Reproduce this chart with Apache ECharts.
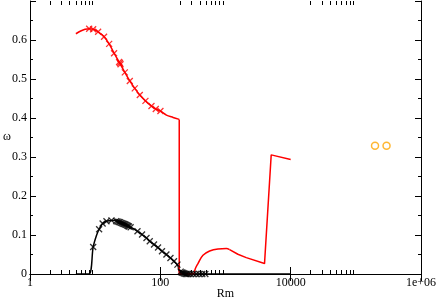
<!DOCTYPE html>
<html>
<head>
<meta charset="utf-8">
<script src="https://cdn.jsdelivr.net/npm/echarts@6/dist/echarts.min.js"></script>
<style>html,body{margin:0;padding:0;background:#fff}#c{width:436px;height:299px}</style>
</head>
<body>
<div id="c"></div>
<script>
// ---- data ----
const xTickValues = [1, 100, 10000, 1000000];
const xTickLabels = ['1', '100', '10000', '1e+06'];
const xMinorTicks = [2,3,4,5,6,7,8,9, 200,300,400,500,600,700,800,900, 20000,30000,40000,50000,60000,70000,80000,90000];
const yTickLabels = ['0','0.1','0.2','0.3','0.4','0.5','0.6'];

// red curve (upper branch)
const redCurveX = [5.06, 6, 7, 8.09, 9.31, 11.1, 13.7, 16.4, 19.5, 23.3, 28.5, 34, 40.5, 48.4, 59.1, 73.1, 85.1, 100.3, 124, 156.6, 195];
const redCurveY = [0.616, 0.623, 0.6275, 0.629, 0.6275, 0.621, 0.6085, 0.590, 0.566, 0.5435, 0.517, 0.495, 0.476, 0.459, 0.444, 0.4306, 0.423, 0.418, 0.4074, 0.4015, 0.3964];
// red drop to zero
const redDropX = [195, 195, 328];
const redDropY = [0.3964, 0, 0];
// red arc
const redArcX = [328, 345, 378, 451, 571, 766, 1029, 1156];
const redArcY = [0, 0.0139, 0.0267, 0.048, 0.059, 0.0642, 0.0652, 0.0626];
// red tail (decline, jump, end)
const redTailX = [1156, 1549, 2083, 3970, 5027, 10000];
const redTailY = [0.0626, 0.0506, 0.042, 0.0267, 0.3055, 0.2937];
// red markers
const redMarkX = [8.09, 9.31, 11.1, 13.7, 16.4, 19.5, 23.3, 24.0, 24.5, 28.5, 34, 40.5, 48.4, 59.1, 73.1, 85.1, 100.3];
const redMarkY = [0.629, 0.6275, 0.621, 0.6085, 0.590, 0.566, 0.5435, 0.541, 0.538, 0.517, 0.495, 0.476, 0.459, 0.444, 0.4306, 0.423, 0.418];

// black curve
const blackX = [5.06, 8.0, 9.32, 10.5, 11.5, 13.0, 14.9, 17.8, 20.0, 24, 28.5, 35.2, 44.6, 52.4, 61.3, 68.8, 80, 92.2, 106, 124, 143, 162, 185, 210, 10000];
const blackY = [0, 0, 0.0693, 0.0994, 0.1148, 0.1294, 0.1353, 0.1375, 0.137, 0.1315, 0.127, 0.12, 0.1096, 0.1012, 0.0924, 0.084, 0.0755, 0.0678, 0.0583, 0.0498, 0.0411, 0.0326, 0.022, 0, 0];
// black markers
const blackMarkX = [9.32, 11.5, 13.0, 14.9, 17.8, 21, 22, 23, 24, 25, 26, 27, 28, 29, 30, 31, 32, 33, 35, 44.6, 52.4, 61.3, 68.8, 80, 92.2, 106, 124, 143, 162, 183, 205, 212, 220, 228, 236, 245, 255, 270, 290, 320, 355, 395, 440, 490];
const blackMarkY = [0.0693, 0.1148, 0.1294, 0.1353, 0.1375, 0.1355, 0.1345, 0.1335, 0.1325, 0.131, 0.130, 0.129, 0.128, 0.127, 0.126, 0.1245, 0.123, 0.122, 0.12, 0.1096, 0.1012, 0.0924, 0.084, 0.0755, 0.0678, 0.0583, 0.0498, 0.0411, 0.0326, 0.024, 0.006, 0.004, 0.003, 0.002, 0.001, 0, 0, 0, 0, 0, 0, 0, 0, 0];

// orange circles
const orangeX = [197000, 296000];
const orangeY = [0.3286, 0.3286];

// ---- chart ----
const zip = (xs, ys) => xs.map((x, i) => [x, ys[i]]);
const FONT = "Liberation Serif";
const crossPath = 'path://M0,0L10,10M10,0L0,10';

const chart = echarts.init(document.getElementById('c'), null, {renderer: 'canvas'});

const xLabelFmt = v => {
  for (let i = 0; i < xTickValues.length; i++) {
    if (Math.abs(Math.log10(v) - Math.log10(xTickValues[i])) < 1e-6) return xTickLabels[i];
  }
  return '';
};
const yLabelFmt = v => {
  const i = Math.round(v * 10);
  return yTickLabels[i] !== undefined ? yTickLabels[i] : '';
};

const baseX = {
  type: 'log', logBase: 100, min: 1, max: 1000000,
  axisLine: {show: true, lineStyle: {color: '#000', width: 1}},
  axisTick: {show: true, inside: true, length: 7, lineStyle: {color: '#000', width: 1}},
  splitLine: {show: false},
  minorTick: {show: false}
};
const baseY = {
  type: 'value', min: 0, max: 0.7, interval: 0.1,
  axisLine: {show: true, lineStyle: {color: '#000', width: 1}},
  axisTick: {show: true, inside: true, length: 6, lineStyle: {color: '#000', width: 1}},
  minorTick: {show: true, splitNumber: 2, length: 3, lineStyle: {color: '#000', width: 1}},
  splitLine: {show: false}
};
const redLine = {type: 'line', showSymbol: false, lineStyle: {color: '#ff0000', width: 1.5}, z: 3};

chart.setOption({
  animation: false,
  backgroundColor: '#fff',
  grid: {left: 30, right: 15, top: 1, bottom: 25, containLabel: false, outerBoundsMode: 'none'},
  graphic: [
    {type: 'text', left: 3, top: 131, style: {text: 'ω', fontFamily: FONT, fontSize: 12, fill: '#000'}}
  ],
  xAxis: [
    Object.assign({}, baseX, {
      position: 'bottom',
      axisLabel: {show: true, formatter: xLabelFmt, fontFamily: FONT, fontSize: 12, color: '#000', margin: 3},
      name: 'Rm', nameLocation: 'middle', nameGap: 14, nameMoveOverlap: false,
      nameTextStyle: {fontFamily: FONT, fontSize: 12, color: '#000'}
    }),
    Object.assign({}, baseX, {position: 'top', axisLabel: {show: false}})
  ],
  yAxis: [
    Object.assign({}, baseY, {
      position: 'left',
      axisLabel: {show: true, formatter: yLabelFmt, fontFamily: FONT, fontSize: 12, color: '#000', margin: 3, showMaxLabel: false}
    }),
    Object.assign({}, baseY, {position: 'right', axisLabel: {show: false}})
  ],
  series: [
    {
      type: 'custom', xAxisIndex: 0, yAxisIndex: 0, silent: true, z: 1,
      data: xMinorTicks.map(v => [v, 0]),
      encode: {x: 0, y: 1},
      renderItem: (params, api) => {
        const b = api.coord([api.value(0), 0]);
        const t = api.coord([api.value(0), 0.7]);
        const x = Math.round(b[0]) + 0.5;
        return {type: 'group', children: [
          {type: 'line', shape: {x1: x, y1: b[1], x2: x, y2: b[1] - 4}, style: {stroke: '#000', lineWidth: 1}},
          {type: 'line', shape: {x1: x, y1: t[1], x2: x, y2: t[1] + 4}, style: {stroke: '#000', lineWidth: 1}}
        ]};
      }
    },
    Object.assign({}, redLine, {data: zip(redCurveX, redCurveY), smooth: 0.3}),
    Object.assign({}, redLine, {data: zip(redDropX, redDropY), smooth: false}),
    Object.assign({}, redLine, {data: zip(redArcX, redArcY), smooth: 0.4}),
    Object.assign({}, redLine, {data: zip(redTailX, redTailY), smooth: false}),
    {
      type: 'scatter', data: zip(redMarkX, redMarkY), symbol: crossPath, symbolSize: 6,
      itemStyle: {color: 'rgba(0,0,0,0)', borderColor: '#ff0000', borderWidth: 1.3}, z: 4
    },
    {
      type: 'line', data: zip(blackX, blackY), smooth: 0.3, showSymbol: false,
      lineStyle: {color: '#000', width: 1.5}, z: 2
    },
    {
      type: 'scatter', data: zip(blackMarkX, blackMarkY), symbol: crossPath, symbolSize: 6,
      itemStyle: {color: 'rgba(0,0,0,0)', borderColor: '#000', borderWidth: 1.3}, z: 4
    },
    {
      type: 'scatter', data: zip(orangeX, orangeY), symbol: 'circle', symbolSize: 7,
      itemStyle: {color: 'rgba(0,0,0,0)', borderColor: '#ffa500', borderWidth: 1.5}, z: 4
    }
  ]
});
</script>
</body>
</html>
